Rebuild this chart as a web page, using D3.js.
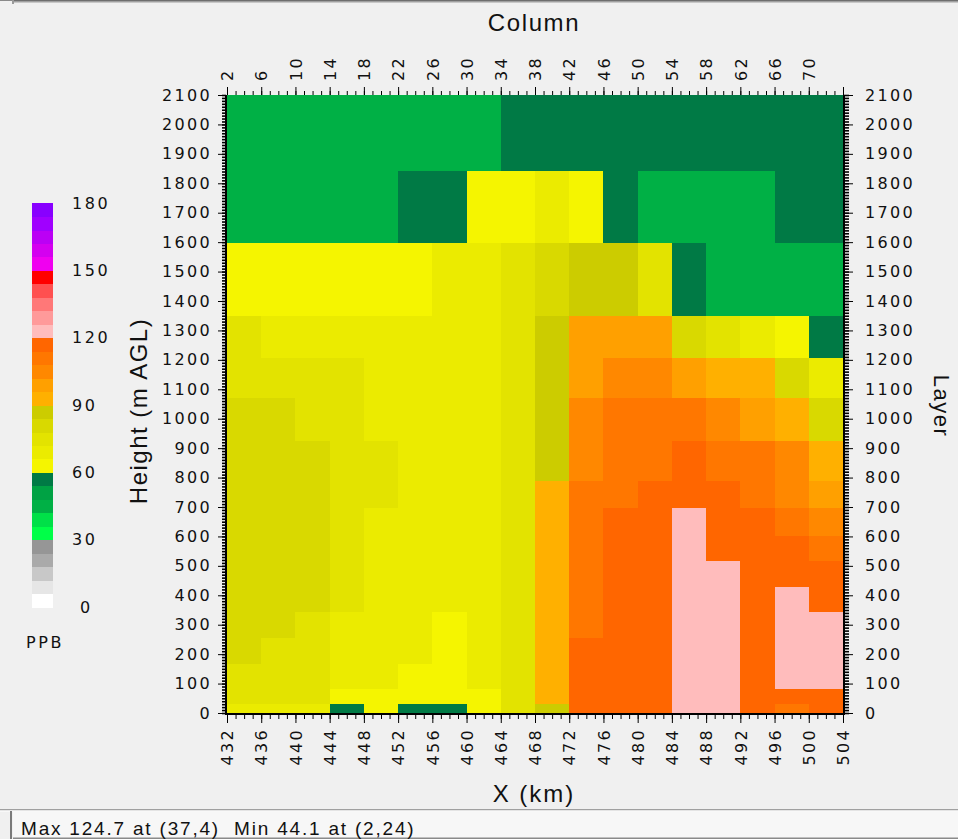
<!DOCTYPE html>
<html>
<head>
<meta charset="utf-8">
<script src="https://cdn.jsdelivr.net/npm/d3@7"></script>
<style>
  html, body { margin: 0; padding: 0; background: #f0f0f0; }
  svg { display: block; }
</style>
</head>
<body>
<svg id="chart" width="958" height="839"></svg>
<script>
// Cell edges along the cross-section (km); each cell is 4 km wide
const xEdges = [432, 436, 440, 444, 448, 452, 456, 460, 464, 468, 472, 476, 480, 484, 488, 492, 496, 500, 504];

// Model layer interfaces (m AGL), ground upwards
const layerEdges = [0, 32, 83, 168, 258, 346, 431, 519, 604, 700, 789, 927, 1072, 1210, 1350, 1600, 1845, 2100];

// Ozone (ppb): one row per layer from the ground up, one value per x cell
const ozone = [
  [71.4, 71.1, 70.8, 56.3, 63.4, 57.2, 56.7, 62.9, 73.6, 85.9, 114.8, 116.9, 117.8, 122.9, 121.3, 115.6, 113.2, 115.1],
  [74.9, 74.4, 73.8, 64.6, 65.3, 65.8, 65.1, 64.4, 76.1, 94.8, 115.9, 117.7, 118.6, 123.6, 121.7, 118.9, 117.4, 116.8],
  [76.2, 75.8, 75.1, 69.4, 68.7, 65.6, 64.2, 67.8, 76.6, 94.6, 116.1, 118.3, 119.3, 124.2, 122.5, 119.4, 122.1, 121.4],
  [80.9, 77.6, 76.5, 69.9, 69.2, 68.4, 64.7, 68.2, 76.9, 94.4, 114.2, 118.1, 119.5, 124.7, 122.8, 119.7, 122.4, 121.8],
  [81.7, 80.6, 76.9, 70.4, 69.6, 68.9, 65.2, 68.6, 77.2, 94.1, 113.7, 117.9, 119.4, 124.1, 122.3, 119.6, 121.9, 121.2],
  [81.9, 81.4, 80.2, 76.3, 70.9, 70.2, 69.8, 69.5, 77.4, 93.9, 113.4, 117.6, 119.2, 123.5, 121.6, 119.5, 120.8, 118.3],
  [81.6, 81.1, 80.4, 76.8, 71.2, 70.6, 70.3, 69.9, 77.3, 93.4, 113.1, 117.3, 118.9, 122.8, 120.4, 119.3, 117.2, 115.7],
  [81.2, 80.7, 80.1, 77.2, 71.6, 70.9, 70.6, 70.2, 77.1, 92.8, 112.9, 116.8, 118.5, 121.9, 119.1, 118.2, 114.6, 110.9],
  [80.8, 80.3, 79.9, 77.9, 71.9, 71.2, 70.8, 70.3, 76.8, 92.1, 112.4, 116.2, 117.8, 120.6, 118.4, 116.7, 111.8, 105.4],
  [80.1, 79.8, 79.2, 77.8, 72.9, 71.9, 71.3, 70.7, 76.4, 91.2, 111.6, 113.2, 115.8, 117.4, 115.3, 112.7, 106.3, 98.6],
  [79.4, 79.1, 78.5, 77.6, 72.3, 71.6, 71.0, 70.5, 75.9, 88.4, 107.3, 110.8, 112.6, 114.5, 112.1, 109.4, 104.7, 94.2],
  [78.6, 78.2, 77.4, 76.1, 71.5, 70.9, 70.4, 69.8, 75.2, 87.8, 106.1, 109.2, 110.4, 108.7, 105.5, 100.8, 93.6, 81.4],
  [73.1, 72.8, 72.4, 72.2, 70.8, 70.2, 69.7, 69.1, 74.5, 86.9, 100.3, 103.6, 104.2, 99.4, 95.1, 94.3, 80.2, 68.9],
  [72.6, 70.1, 69.6, 69.2, 68.8, 68.3, 67.9, 68.4, 73.8, 86.1, 97.2, 98.8, 96.5, 79.3, 73.4, 67.2, 64.1, 55.7],
  [62.1, 62.4, 62.8, 63.3, 63.9, 64.6, 66.8, 67.5, 72.9, 79.6, 84.8, 85.3, 74.6, 58.1, 47.5, 46.9, 46.4, 46.0],
  [45.0, 45.4, 45.9, 46.5, 47.1, 55.2, 56.8, 63.9, 64.8, 66.7, 65.1, 58.4, 47.4, 46.8, 46.2, 47.3, 55.6, 56.9],
  [44.1, 44.6, 45.2, 45.8, 46.3, 46.9, 47.2, 47.6, 54.8, 55.3, 55.9, 56.2, 56.6, 57.1, 57.4, 57.9, 58.3, 58.6]
];

// Colour key: 6 ppb classes from 0 to 180
const legendBreaks = [0, 6, 12, 18, 24, 30, 36, 42, 48, 54, 60, 66, 72, 78, 84, 90, 96, 102, 108, 114, 120, 126, 132, 138, 144, 150, 156, 162, 168, 174, 180];
const legendColors = [
  "#ffffff", "#e6e6e6", "#c8c8c8", "#aaaaaa", "#969696",
  "#00ff48", "#00e048", "#00b045", "#00a244", "#007a45",
  "#f5f500", "#ebeb00", "#e3e300", "#d9d900", "#cccc00",
  "#ffb000", "#ffa000", "#ff8800", "#ff7700", "#ff6600",
  "#ffbcbc", "#ff9a9a", "#ff7878", "#ff5050", "#ff0000",
  "#f000f0", "#d400f0", "#bb00f5", "#a000ff", "#8800ff"
];
const legendTicks = [0, 30, 60, 90, 120, 150, 180];

// Axis ticks
const heightTicks = [0, 100, 200, 300, 400, 500, 600, 700, 800, 900, 1000, 1100, 1200, 1300, 1400, 1500, 1600, 1700, 1800, 1900, 2000, 2100];
const xTicks = [432, 436, 440, 444, 448, 452, 456, 460, 464, 468, 472, 476, 480, 484, 488, 492, 496, 500, 504];
const columnTicks = [2, 6, 10, 14, 18, 22, 26, 30, 34, 38, 42, 46, 50, 54, 58, 62, 66, 70];
const statusText = "Max 124.7 at (37,4)  Min 44.1 at (2,24)";

const svg = d3.select("#chart");
const W = 958, H = 839;
const plot = { left: 227, right: 843, top: 95, bottom: 713 };

const x = d3.scaleLinear().domain([432, 504]).range([plot.left, plot.right]);
const column = d3.scaleLinear().domain([2, 74]).range([plot.left, plot.right]);
const y = d3.scaleLinear().domain([0, 2100]).range([plot.bottom, plot.top]);
const color = d3.scaleThreshold().domain(legendBreaks.slice(1, -1)).range(legendColors);
const plain = d3.format("d");

const numFont = "'DejaVu Sans', Verdana, sans-serif";
const titleFont = "'Liberation Sans', Arial, sans-serif";

// Window frame along the top
svg.append("rect").attr("x", 0).attr("y", 0).attr("width", W).attr("height", H).attr("fill", "#f0f0f0");
svg.append("rect").attr("x", 14).attr("y", 0).attr("width", W - 14).attr("height", 1).attr("fill", "#6e6e6e");
svg.append("rect").attr("x", 14).attr("y", 1).attr("width", W - 14).attr("height", 1.5).attr("fill", "#a0a0a0");
svg.append("rect").attr("x", 0).attr("y", 0).attr("width", 12).attr("height", 1).attr("fill", "#8a8a8a");
svg.append("rect").attr("x", 12).attr("y", 0).attr("width", 2).attr("height", 4).attr("fill", "#9a9a9a");

// Heat-map cells
const cells = [];
ozone.forEach((row, r) => row.forEach((v, c) => cells.push({ r, c, v })));
svg.append("g")
  .attr("shape-rendering", "crispEdges")
  .selectAll("rect")
  .data(cells)
  .join("rect")
  .attr("x", d => x(xEdges[d.c]))
  .attr("y", d => y(layerEdges[d.r + 1]))
  .attr("width", d => x(xEdges[d.c + 1]) - x(xEdges[d.c]) + 0.6)
  .attr("height", d => y(layerEdges[d.r]) - y(layerEdges[d.r + 1]) + 0.6)
  .attr("fill", d => color(d.v));

function styleAxis(g, strokeW) {
  g.attr("font-family", null).attr("font-size", null);
  g.select(".domain").remove();
  g.selectAll(".tick line").attr("stroke", "#000").attr("stroke-width", strokeW);
  g.selectAll(".tick text")
    .attr("fill", "#111")
    .style("font-family", numFont)
    .style("font-size", "16px")
    .style("letter-spacing", "2.3px");
}

const minorHeights = d3.range(0, 2101, 10);
const minorKm = d3.range(432, 505, 1);
const minorCols = d3.range(2, 75, 1);

// Left axis
svg.append("g").attr("transform", `translate(${plot.left - 1},0)`)
  .call(d3.axisLeft(y).tickValues(minorHeights).tickSize(4).tickFormat("").tickSizeOuter(0))
  .call(g => styleAxis(g, 1.6));
svg.append("g").attr("transform", `translate(${plot.left - 1},0)`)
  .call(d3.axisLeft(y).tickValues(heightTicks).tickSize(8).tickPadding(6).tickFormat(plain).tickSizeOuter(0))
  .call(g => styleAxis(g, 1));

// Right axis
svg.append("g").attr("transform", `translate(${plot.right + 1},0)`)
  .call(d3.axisRight(y).tickValues(minorHeights).tickSize(5).tickFormat("").tickSizeOuter(0))
  .call(g => styleAxis(g, 1.6));
svg.append("g").attr("transform", `translate(${plot.right + 1},0)`)
  .call(d3.axisRight(y).tickValues(heightTicks).tickSize(9).tickPadding(12).tickFormat(plain).tickSizeOuter(0))
  .call(g => styleAxis(g, 1));

// Bottom axis (km)
svg.append("g").attr("transform", `translate(0,${plot.bottom + 1})`)
  .call(d3.axisBottom(x).tickValues(minorKm).tickSize(5).tickFormat("").tickSizeOuter(0))
  .call(g => styleAxis(g, 1));
svg.append("g").attr("transform", `translate(0,${plot.bottom + 1})`)
  .call(d3.axisBottom(x).tickValues(xTicks).tickSize(9).tickFormat(plain).tickSizeOuter(0))
  .call(g => styleAxis(g, 1))
  .call(g => g.selectAll(".tick text")
    .attr("transform", "rotate(-90)")
    .attr("text-anchor", "end")
    .attr("x", -14)
    .attr("y", 0)
    .attr("dy", "0.36em"));

// Top axis (model column)
svg.append("g").attr("transform", `translate(0,${plot.top})`)
  .call(d3.axisTop(column).tickValues(minorCols).tickSize(4).tickFormat("").tickSizeOuter(0))
  .call(g => styleAxis(g, 1));
svg.append("g").attr("transform", `translate(0,${plot.top})`)
  .call(d3.axisTop(column).tickValues(columnTicks.concat([74])).tickSize(8)
    .tickFormat(d => (columnTicks.includes(d) ? plain(d) : "")).tickSizeOuter(0))
  .call(g => styleAxis(g, 1))
  .call(g => g.selectAll(".tick text")
    .attr("transform", "rotate(-90)")
    .attr("text-anchor", "start")
    .attr("x", 14)
    .attr("y", 0)
    .attr("dy", "0.36em"));

// Frame lines of the plot
const frame = svg.append("g").attr("stroke", "#000").attr("stroke-width", 2);
frame.append("line").attr("x1", plot.left - 1).attr("x2", plot.left - 1).attr("y1", plot.top).attr("y2", plot.bottom + 2);
frame.append("line").attr("x1", plot.right + 1).attr("x2", plot.right + 1).attr("y1", plot.top).attr("y2", plot.bottom + 2);
frame.append("line").attr("x1", plot.left - 2).attr("x2", plot.right + 2).attr("y1", plot.bottom + 1).attr("y2", plot.bottom + 1);

// Axis titles
svg.append("text").text("Column")
  .attr("x", 534).attr("y", 31).attr("text-anchor", "middle")
  .style("font-family", titleFont).style("font-size", "24px").style("letter-spacing", "1.6px").attr("fill", "#111");
svg.append("text").text("X (km)")
  .attr("x", 534).attr("y", 802).attr("text-anchor", "middle")
  .style("font-family", titleFont).style("font-size", "24px").style("letter-spacing", "2px").attr("fill", "#111");
svg.append("text").text("Height (m AGL)")
  .attr("transform", "translate(147,411) rotate(-90)").attr("text-anchor", "middle")
  .style("font-family", titleFont).style("font-size", "24px").style("letter-spacing", "1.5px").attr("fill", "#111");
svg.append("text").text("Layer")
  .attr("transform", "translate(934,406) rotate(90)").attr("text-anchor", "middle")
  .style("font-family", titleFont).style("font-size", "22px").style("letter-spacing", "1.5px").attr("fill", "#111");

// Colour key
const keyY = d3.scaleLinear().domain([0, 180]).range([607, 203]);
const key = svg.append("g");
key.append("g").attr("shape-rendering", "crispEdges")
  .selectAll("rect")
  .data(legendColors.map((c, i) => ({ c, lo: legendBreaks[i], hi: legendBreaks[i + 1] })))
  .join("rect")
  .attr("x", 32).attr("width", 21)
  .attr("y", d => keyY(d.hi))
  .attr("height", d => keyY(d.lo) - keyY(d.hi) + 0.6)
  .attr("fill", d => d.c);
key.selectAll("text")
  .data(legendTicks)
  .join("text")
  .text(d => d)
  .attr("x", d => (d === 0 ? 80 : 72))
  .attr("y", d => keyY(d))
  .attr("dy", "0.36em")
  .attr("fill", "#111")
  .style("font-family", numFont).style("font-size", "16px").style("letter-spacing", "2.6px");
svg.append("text").text("PPB")
  .attr("x", 26).attr("y", 648)
  .attr("fill", "#111")
  .style("font-family", numFont).style("font-size", "16px").style("letter-spacing", "2.6px");

// Status bar
svg.append("rect").attr("x", 0).attr("y", 809).attr("width", W).attr("height", 1.5).attr("fill", "#a0a0a0");
svg.append("rect").attr("x", 0).attr("y", 810.5).attr("width", W).attr("height", 1).attr("fill", "#ffffff");
svg.append("rect").attr("x", 13).attr("y", 812).attr("width", W - 13).attr("height", 27).attr("fill", "#f7f7f7");
svg.append("rect").attr("x", 10).attr("y", 811).attr("width", 2).attr("height", 28).attr("fill", "#7a7a7a");
svg.append("rect").attr("x", 13).attr("y", 837.5).attr("width", W - 13).attr("height", 1.5).attr("fill", "#8a8a8a");
svg.append("text").text(statusText)
  .attr("x", 21).attr("y", 835)
  .attr("fill", "#111")
  .style("white-space", "pre")
  .style("font-family", titleFont).style("font-size", "19px").style("letter-spacing", "1.8px");
</script>
</body>
</html>
